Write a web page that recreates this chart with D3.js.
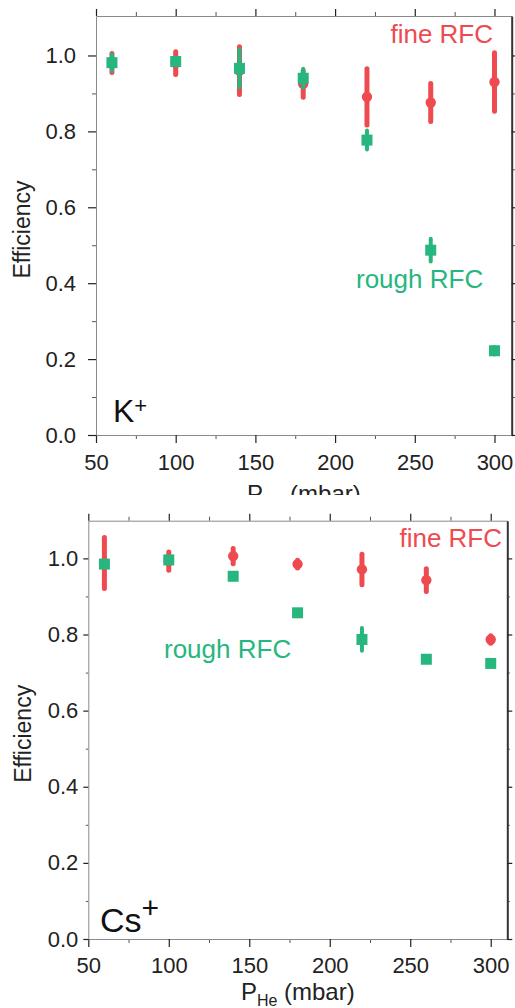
<!DOCTYPE html>
<html>
<head>
<meta charset="utf-8">
<script src="https://cdn.jsdelivr.net/npm/d3@7"></script>
<style>
	body { margin: 0; background: #fff; }
	svg { font-family: "Liberation Sans", Arial, sans-serif; display: block; }
</style>
</head>
<body>
<div id="container"></div>
<script>
// 1. Data
const pressure = [60, 100, 140, 180, 220, 260, 300]

const kFine = [0.98, 0.98, 0.96, 0.925, 0.891, 0.876, 0.93]
const kFineErr = [0.025, 0.03, 0.063, 0.035, 0.074, 0.05, 0.077]
const kRough = [0.981, 0.984, 0.966, 0.94, 0.777, 0.487, 0.222]
const kRoughErr = [0.022, 0.01, 0.05, 0.025, 0.025, 0.03, 0.01]

const csFine = [0.988, 0.993, 1.006, 0.985, 0.971, 0.943, 0.787]
const csFineErr = [0.067, 0.024, 0.02, 0.01, 0.04, 0.03, 0.01]
const csRough = [0.985, 0.996, 0.953, 0.857, 0.787, 0.735, 0.724]
const csRoughErr = [0.005, 0.005, 0.005, 0.005, 0.03, 0.005, 0.005]

const xMajor = [50, 100, 150, 200, 250, 300]
const xMinor = [75, 125, 175, 225, 275]
const yMajor = [0, 0.2, 0.4, 0.6, 0.8, 1.0]
const yMinor = [0.1, 0.3, 0.5, 0.7, 0.9]

const red = "#ee4a50"
const green = "#26b67e"

// 2. Panel layout
const panels = [
	{
		left: 96, right: 511.7, top: 16, bottom: 435,
		xMax: 310.8, yMax: 1.104, clipBottom: 495,
		fine: kFine, fineErr: kFineErr, rough: kRough, roughErr: kRoughErr,
		ion: "K", ionX: 113, ionY: 421.7, ionSize: 32, plusSize: 22, plusShift: 9,
		fineAt: [493, 43], roughAt: [356, 288],
		yTickLen: 8, yTickPad: 12, xTickBase: 470, xLabelBase: 502, yLabelX: 30,
	},
	{
		left: 88.3, right: 507.3, top: 520.7, bottom: 939,
		xMax: 310.3, yMax: 1.099, clipBottom: 1008,
		fine: csFine, fineErr: csFineErr, rough: csRough, roughErr: csRoughErr,
		ion: "Cs", ionX: 100, ionY: 931.7, ionSize: 34, plusSize: 30, plusShift: 14,
		fineAt: [502, 547], roughAt: [164, 658],
		yTickLen: 5, yTickPad: 5, xTickBase: 973, xLabelBase: 1000, yLabelX: 31,
	},
]

// 3. Canvas
const svg = d3.select("#container")
	.append("svg")
	.attr("width", 515)
	.attr("height", 1008)

panels.forEach((p, i) => drawPanel(p, i))

function drawPanel(p, i) {
	svg.append("clipPath")
		.attr("id", `clip${i}`)
		.append("rect")
		.attr("x", 0).attr("y", p.top - 20)
		.attr("width", 515).attr("height", p.clipBottom - p.top + 20)

	const g = svg.append("g").attr("clip-path", `url(#clip${i})`)

	// 4. Scales
	const x = d3.scaleLinear().domain([50, p.xMax]).range([p.left, p.right])
	const y = d3.scaleLinear().domain([0, p.yMax]).range([p.bottom, p.top])

	// 6. Axes (drawn first, marks on top)
	const styleAxis = (sel, lineColor, lineWidth) => {
		sel.select(".domain").attr("stroke", lineColor).attr("stroke-width", lineWidth)
		sel.selectAll(".tick line").attr("stroke", "#222").attr("stroke-width", 1.2)
		sel.selectAll(".tick text").attr("fill", "#222").attr("font-size", 22)
	}

	// bottom
	g.append("g").attr("transform", `translate(0,${p.bottom})`)
		.call(d3.axisBottom(x).tickValues(xMinor).tickSize(4).tickFormat(""))
		.call(s => { s.select(".domain").remove(); s.selectAll("line").attr("stroke", "#555") })
	g.append("g").attr("transform", `translate(0,${p.bottom})`)
		.call(d3.axisBottom(x).tickValues(xMajor).tickSizeInner(8).tickSizeOuter(0).tickFormat(d3.format("d")))
		.call(s => styleAxis(s, "#8a8a8a", 1))
		.call(s => s.selectAll(".tick text").attr("dy", null).attr("y", p.xTickBase - p.bottom))

	// top
	g.append("g").attr("transform", `translate(0,${p.top})`)
		.call(d3.axisTop(x).tickValues(xMinor).tickSize(4).tickFormat(""))
		.call(s => { s.select(".domain").remove(); s.selectAll("line").attr("stroke", "#555") })
	g.append("g").attr("transform", `translate(0,${p.top})`)
		.call(d3.axisTop(x).tickValues(xMajor).tickSizeInner(7).tickSizeOuter(0).tickFormat(""))
		.call(s => styleAxis(s, "#8a8a8a", 1))

	// left
	g.append("g").attr("transform", `translate(${p.left},0)`)
		.call(d3.axisLeft(y).tickValues(yMinor).tickSize(p.yTickLen / 2).tickFormat(""))
		.call(s => { s.select(".domain").remove(); s.selectAll("line").attr("stroke", "#555") })
	g.append("g").attr("transform", `translate(${p.left},0)`)
		.call(d3.axisLeft(y).tickValues(yMajor).tickSizeInner(p.yTickLen).tickSizeOuter(0)
			.tickPadding(p.yTickPad).tickFormat(d3.format(".1f")))
		.call(s => styleAxis(s, "#8a8a8a", 1))

	// right
	g.append("g").attr("transform", `translate(${p.right},0)`)
		.call(d3.axisRight(y).tickValues(yMinor).tickSize(p.yTickLen / 2).tickFormat(""))
		.call(s => { s.select(".domain").remove(); s.selectAll("line").attr("stroke", "#555") })
	g.append("g").attr("transform", `translate(${p.right},0)`)
		.call(d3.axisRight(y).tickValues(yMajor).tickSizeInner(p.yTickLen).tickSizeOuter(0).tickFormat(""))
		.call(s => styleAxis(s, "#333", 2))

	// 5. Data marks
	const series = [
		{ vals: p.fine, errs: p.fineErr, color: red, barW: 5, shape: "circle" },
		{ vals: p.rough, errs: p.roughErr, color: green, barW: 4, shape: "square" },
	]

	series.forEach(s => {
		const rows = pressure.map((px, j) => ({ px, v: s.vals[j], e: s.errs[j] }))

		g.append("g").selectAll("line")
			.data(rows)
			.join("line")
			.attr("x1", d => x(d.px)).attr("x2", d => x(d.px))
			.attr("y1", d => y(d.v - d.e)).attr("y2", d => y(d.v + d.e))
			.attr("stroke", s.color)
			.attr("stroke-width", s.barW)
			.attr("stroke-linecap", "round")

		if (s.shape === "circle") {
			g.append("g").selectAll("circle")
				.data(rows)
				.join("circle")
				.attr("cx", d => x(d.px)).attr("cy", d => y(d.v))
				.attr("r", 5.2)
				.attr("fill", s.color)
		} else {
			g.append("g").selectAll("rect")
				.data(rows)
				.join("rect")
				.attr("x", d => x(d.px) - 5.5).attr("y", d => y(d.v) - 5.5)
				.attr("width", 11).attr("height", 11)
				.attr("fill", s.color)
		}
	})

	// Labels
	g.append("text")
		.attr("x", p.fineAt[0]).attr("y", p.fineAt[1])
		.attr("text-anchor", "end")
		.attr("font-size", 26)
		.attr("fill", red)
		.text("fine RFC")

	g.append("text")
		.attr("x", p.roughAt[0]).attr("y", p.roughAt[1])
		.attr("font-size", 26)
		.attr("fill", green)
		.text("rough RFC")

	const ion = g.append("text")
		.attr("x", p.ionX).attr("y", p.ionY)
		.attr("font-size", p.ionSize)
		.attr("fill", "#111")
	ion.append("tspan").text(p.ion)
	ion.append("tspan")
		.attr("font-size", p.plusSize)
		.attr("dy", -p.plusShift)
		.text("+")

	const xLabel = g.append("text")
		.attr("x", (p.left + p.right) / 2).attr("y", p.xLabelBase)
		.attr("text-anchor", "middle")
		.attr("font-size", 24)
		.attr("fill", "#222")
	xLabel.append("tspan").text("P")
	xLabel.append("tspan").attr("font-size", 16).attr("dy", 6).text("He")
	xLabel.append("tspan").attr("dy", -6).text(" (mbar)")

	g.append("text")
		.attr("transform", `translate(${p.yLabelX},${(p.top + p.bottom) / 2 + 4}) rotate(-90)`)
		.attr("text-anchor", "middle")
		.attr("font-size", 23)
		.attr("fill", "#222")
		.text("Efficiency")
}
</script>
</body>
</html>
